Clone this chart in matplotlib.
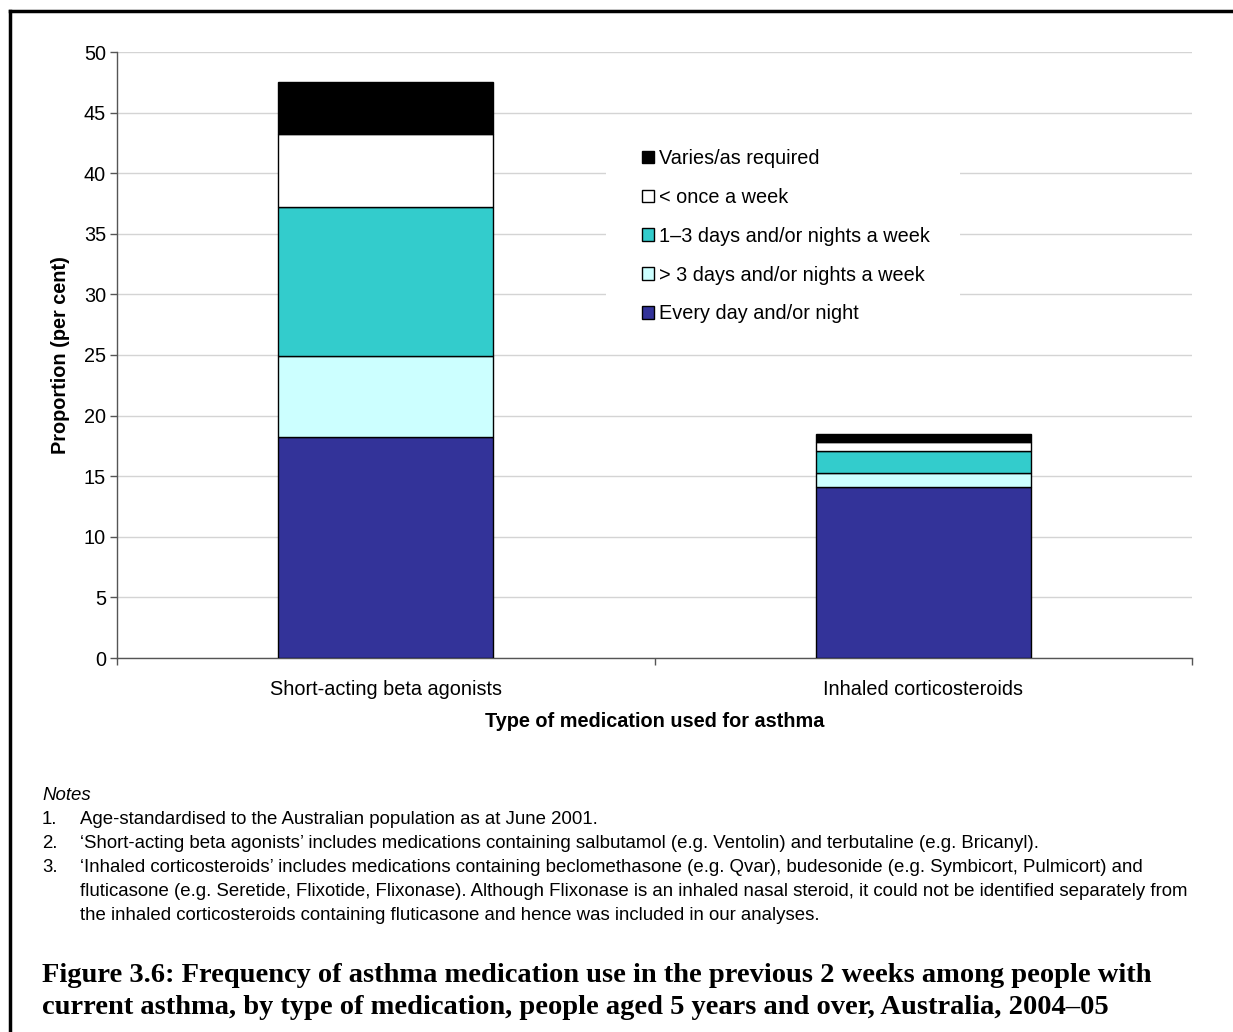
import matplotlib.pyplot as plt
from matplotlib.lines import Line2D
from matplotlib.patches import Rectangle
import numpy as np

# ---- data ----
categories = ['Short-acting beta agonists', 'Inhaled corticosteroids']
series_names = ['Every day and/or night',
                '> 3 days and/or nights a week',
                '1\u20133 days and/or nights a week',
                '< once a week',
                'Varies/as required']
every_day = [18.2, 14.1]
over_3_days = [6.7, 1.2]
one_to_3_days = [12.3, 1.8]
under_once = [6.0, 0.7]
varies = [4.3, 0.7]
series_values = [every_day, over_3_days, one_to_3_days, under_once, varies]
series_colors = ['#333399', '#CCFFFF', '#33CCCC', '#FFFFFF', '#000000']

yticks = list(range(0, 51, 5))

notes = [
    ('1.', 'Age-standardised to the Australian population as at June 2001.'),
    ('2.', '\u2018Short-acting beta agonists\u2019 includes medications containing salbutamol (e.g. Ventolin) and terbutaline (e.g. Bricanyl).'),
    ('3.', '\u2018Inhaled corticosteroids\u2019 includes medications containing beclomethasone (e.g. Qvar), budesonide (e.g. Symbicort, Pulmicort) and'),
    ('', 'fluticasone (e.g. Seretide, Flixotide, Flixonase). Although Flixonase is an inhaled nasal steroid, it could not be identified separately from'),
    ('', 'the inhaled corticosteroids containing fluticasone and hence was included in our analyses.'),
]
title_lines = ['Figure 3.6: Frequency of asthma medication use in the previous 2 weeks among people with',
               'current asthma, by type of medication, people aged 5 years and over, Australia, 2004\u201305']

plt.rcParams['font.family'] = ['Liberation Sans', 'DejaVu Sans']
FS = 14.3

W, H = 1233, 1032
fig = plt.figure(figsize=(W / 100, H / 100), dpi=100)
ax = fig.add_axes([117 / W, 1 - 658 / H, (1192 - 117) / W, (658 - 52) / H])

x = np.arange(len(categories))
bottom = np.zeros(len(categories))
handles = []
for name, vals, col in zip(series_names, series_values, series_colors):
    b = ax.bar(x, vals, width=0.4, bottom=bottom, color=col, edgecolor='black',
               linewidth=1.0, label=name, zorder=3)
    handles.append(b)
    bottom += np.array(vals)

ax.set_xlim(-0.5, 1.5)
ax.set_ylim(0, 50)
ax.set_yticks(yticks)
ax.tick_params(axis='y', labelsize=FS, length=5, width=1, color='#555555', pad=3)
ax.set_xticks([-0.5, 0.5, 1.5])
ax.set_xticklabels([])
ax.set_xticks(x, minor=True)
ax.set_xticklabels(categories, minor=True)
ax.tick_params(axis='x', which='major', length=5, width=1, color='#555555')
ax.tick_params(axis='x', which='minor', length=0, labelsize=FS, pad=15.5)
ax.grid(axis='y', color='#D4D4D4', linewidth=1, zorder=0)
for s in ['top', 'right']:
    ax.spines[s].set_visible(False)
for s in ['left', 'bottom']:
    ax.spines[s].set_color('#555555')
    ax.spines[s].set_linewidth(1)

ax.set_ylabel('Proportion (per cent)', fontsize=FS, fontweight='bold')
ax.set_xlabel('Type of medication used for asthma', fontsize=FS, fontweight='bold')
ax.yaxis.set_label_coords(-0.053, 0.5)
ax.xaxis.set_label_coords(0.5, -0.104)
ax.xaxis.label.set_va('center')
ax.yaxis.label.set_va('center')

# white legend background hiding the gridlines
ax.add_patch(Rectangle((0.455, 0.53), 0.329, 0.345, transform=ax.transAxes,
                       facecolor='white', edgecolor='none', zorder=2))
leg = ax.legend(handles[::-1], series_names[::-1], loc='upper left',
                bbox_to_anchor=(0.4884, 0.840), fontsize=FS, frameon=False,
                handlelength=0.6, handleheight=0.6, handletextpad=0.25,
                labelspacing=1.0, borderpad=0, borderaxespad=0)
leg.set_zorder(5)

# notes
NFS = 13.4
fig.text(42 / W, 1 - 795 / H, 'Notes', fontsize=NFS, style='italic', va='center')
for i, (num, txt) in enumerate(notes):
    yy = 1 - (819 + 24 * i) / H
    if num:
        fig.text(42 / W, yy, num, fontsize=NFS, va='center')
    fig.text(80 / W, yy, txt, fontsize=NFS, va='center')

for i, line in enumerate(title_lines):
    fig.text(42 / W, 1 - (975 + 32 * i) / H, line, fontsize=20.5, fontweight='bold',
             family='Liberation Serif', va='center')

# page frame: top and left rules
fig.add_artist(Line2D([10 / W, 1], [1 - 11 / H, 1 - 11 / H], color='black', linewidth=2.5,
                      transform=fig.transFigure))
fig.add_artist(Line2D([10 / W, 10 / W], [0, 1 - 11 / H], color='black', linewidth=2.5,
                      transform=fig.transFigure))

fig.savefig('out.png', dpi=100)
